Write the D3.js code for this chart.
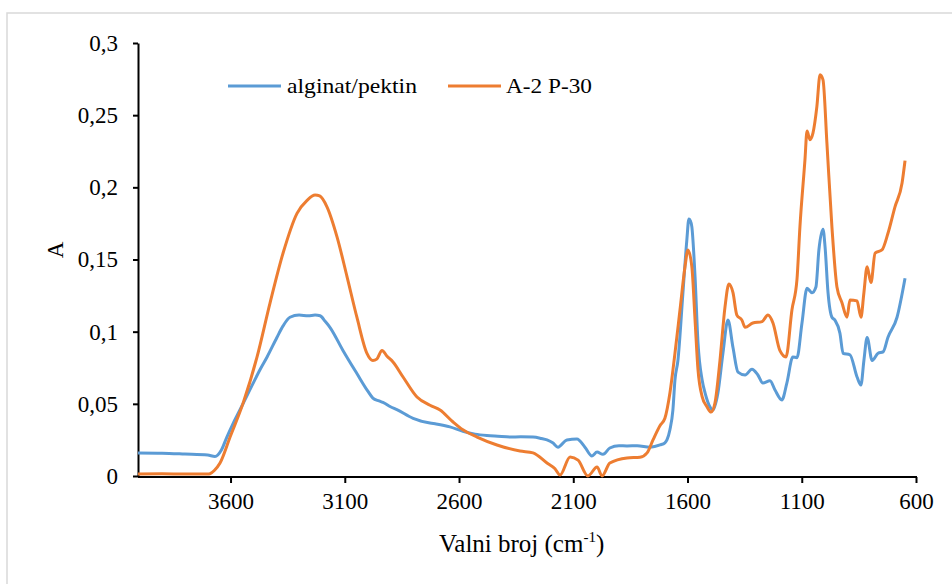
<!DOCTYPE html>
<html><head><meta charset="utf-8">
<script src="https://cdn.jsdelivr.net/npm/d3@7"></script>
<style>body{margin:0;background:#fff}svg{display:block}</style>
</head><body>
<script>
const seriesNames = ["alginat/pektin", "A-2 P-30"];
const xTicks = [3600, 3100, 2600, 2100, 1600, 1100, 600];
const yTicks = [0, 0.05, 0.1, 0.15, 0.2, 0.25, 0.3];
const blueWn = [4005,3900,3800,3700,3668,3640,3616,3590,3559,3530,3502,3470,3440,3397,3370,3340,3300,3260,3230,3208,3185,3165,3108,3047,3000,2977,2950,2933,2900,2872,2801,2727,2700,2640,2583,2530,2478,2430,2377,2330,2276,2240,2215,2190,2167,2128,2084,2049,2018,1996,1970,1940,1900,1865,1820,1764,1720,1699,1690,1677,1664,1655,1642,1620,1603,1594,1588,1581,1567,1554,1536,1523,1502,1489,1467,1445,1423,1401,1379,1348,1318,1292,1270,1239,1217,1187,1165,1139,1121,1099,1077,1055,1038,1025,1007,998,985,968,955,933,919,889,858,841,828,814,792,766,744,723,683,648];
const blueA = [0.016,0.0158,0.0152,0.0145,0.0135,0.018,0.027,0.036,0.0457,0.055,0.064,0.074,0.0825,0.096,0.104,0.110,0.1115,0.111,0.1115,0.111,0.107,0.103,0.087,0.071,0.059,0.054,0.052,0.051,0.048,0.046,0.040,0.0367,0.036,0.034,0.031,0.029,0.028,0.0275,0.027,0.0272,0.027,0.026,0.025,0.023,0.020,0.025,0.0256,0.020,0.0139,0.0166,0.015,0.0194,0.021,0.0208,0.021,0.020,0.0215,0.023,0.025,0.032,0.0457,0.0665,0.080,0.127,0.1635,0.178,0.177,0.1726,0.138,0.092,0.0665,0.0575,0.048,0.0457,0.0575,0.085,0.108,0.089,0.072,0.070,0.074,0.070,0.0645,0.066,0.0596,0.0527,0.0645,0.0825,0.082,0.106,0.130,0.127,0.131,0.1566,0.171,0.1587,0.127,0.110,0.108,0.099,0.085,0.084,0.0686,0.063,0.080,0.096,0.080,0.085,0.086,0.096,0.110,0.137];
const orangeWn = [4005,3900,3800,3700,3690,3670,3646,3602,3545,3484,3427,3370,3309,3265,3230,3210,3178,3134,3090,3047,3003,2977,2960,2937,2915,2889,2845,2784,2727,2683,2626,2583,2521,2434,2333,2276,2215,2180,2158,2114,2079,2036,1996,1974,1940,1865,1808,1777,1751,1720,1699,1677,1655,1633,1611,1598,1581,1567,1554,1536,1515,1497,1480,1458,1436,1419,1401,1384,1362,1348,1314,1274,1248,1226,1196,1169,1143,1121,1108,1086,1077,1064,1051,1034,1020,1007,990,968,946,924,902,889,858,841,828,814,797,779,749,723,692,661,648];
const orangeA = [0.0014,0.0015,0.0013,0.0014,0.0016,0.004,0.009,0.027,0.0505,0.0825,0.12,0.1545,0.182,0.191,0.1947,0.194,0.1865,0.1657,0.138,0.110,0.085,0.080,0.081,0.087,0.083,0.079,0.0686,0.0547,0.049,0.0457,0.0374,0.032,0.027,0.0215,0.0173,0.016,0.009,0.005,0.0007,0.0132,0.011,0.0,0.0062,0.0,0.009,0.0125,0.013,0.016,0.025,0.035,0.040,0.0575,0.085,0.115,0.145,0.1566,0.145,0.108,0.0735,0.055,0.048,0.0443,0.0505,0.080,0.117,0.133,0.127,0.1115,0.108,0.103,0.106,0.107,0.1115,0.106,0.087,0.0825,0.115,0.136,0.1726,0.219,0.239,0.233,0.2375,0.2557,0.278,0.2745,0.231,0.1726,0.131,0.120,0.110,0.122,0.1213,0.110,0.127,0.145,0.134,0.1545,0.1566,0.168,0.1865,0.203,0.2185];
const colors = ["#5B9BD5", "#ED7D31"];
const FONT = '"Liberation Serif"';

const W = 952, H = 584;
const svg = d3.select("body").append("svg").attr("width", W).attr("height", H);
svg.append("rect").attr("x", 7).attr("y", 13).attr("width", W).attr("height", H)
  .attr("fill", "#fff").attr("stroke", "#d9d9d9").attr("stroke-width", 1.5);

const x = d3.scaleLinear().domain([4005, 600]).range([138, 916]);
const y = d3.scaleLinear().domain([0, 0.3]).range([476, 43]);
const fmt = d => String(+d.toFixed(2)).replace(".", ",");

const xAxis = svg.append("g").attr("transform", "translate(0,477)")
  .call(d3.axisBottom(x).tickValues(xTicks).tickSize(6).tickPadding(10).tickSizeOuter(0).tickFormat(d3.format("d")));
const yAxis = svg.append("g").attr("transform", "translate(138,0)")
  .call(d3.axisLeft(y).tickValues(yTicks).tickSize(5).tickPadding(15).tickFormat(fmt).tickSizeOuter(0));
[xAxis, yAxis].forEach(g => {
  g.attr("font-family", "Liberation Serif").attr("font-size", 23);
  g.select(".domain").attr("stroke", "#000").attr("stroke-width", 2);
  g.selectAll(".tick line").attr("stroke", "#000").attr("stroke-width", 2);
  g.selectAll(".tick text").attr("fill", "#000").style("font-family", FONT).style("font-size", "23px");
});
xAxis.select(".domain").attr("d", `M${x(4005)},0H${x(600)+1}`);

const line = d3.line().x(d => x(d[0])).y(d => y(d[1])).curve(d3.curveMonotoneX);
const data = [d3.zip(blueWn, blueA), d3.zip(orangeWn, orangeA)];
data.forEach((d, i) => {
  svg.append("path").datum(d).attr("d", line).attr("fill", "none")
    .attr("stroke", colors[i]).attr("stroke-width", 3).attr("stroke-linejoin", "round");
});

// legend
const leg = [{x1: 228, x2: 281, tx: 287, w: 130}, {x1: 448, x2: 501, tx: 506, w: 86}];
leg.forEach((l, i) => {
  svg.append("line").attr("x1", l.x1).attr("x2", l.x2).attr("y1", 86).attr("y2", 86)
    .attr("stroke", colors[i]).attr("stroke-width", 3);
  svg.append("text").attr("x", l.tx).attr("y", 93).style("font-family", FONT).style("font-size", "21px")
    .attr("textLength", l.w).attr("lengthAdjust", "spacingAndGlyphs").text(seriesNames[i]);
});

// axis titles
const xt = svg.append("text").attr("x", 439).attr("y", 552)
  .style("font-family", FONT).style("font-size", "25px");
xt.append("tspan").text("Valni broj (cm");
xt.append("tspan").attr("dy", -10).style("font-size", "15px").text("-1");
xt.append("tspan").attr("dy", 10).text(")");
svg.append("text").attr("transform", "translate(63,250) rotate(-90)").attr("text-anchor", "middle")
  .style("font-family", FONT).style("font-size", "23px").text("A");
</script>
</body></html>
